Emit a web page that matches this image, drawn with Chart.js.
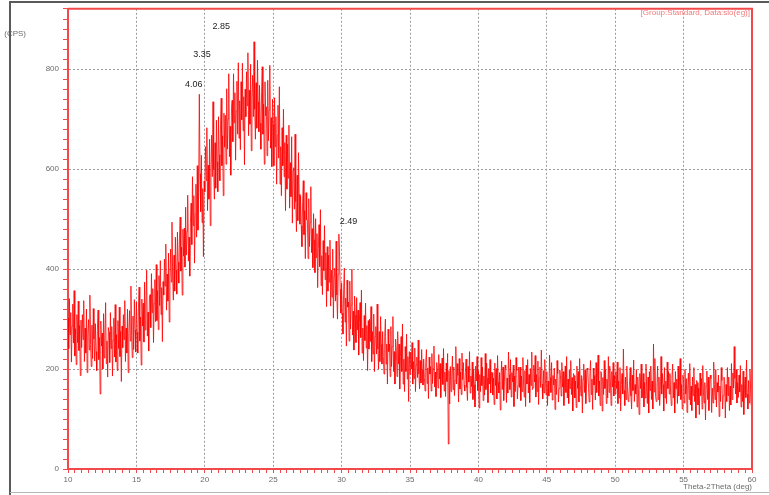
<!DOCTYPE html>
<html>
<head>
<meta charset="utf-8">
<script src="https://cdn.jsdelivr.net/npm/chart.js@4/dist/chart.umd.min.js"></script>
<style>
  html, body { margin: 0; padding: 0; background: #fff; }
  canvas { display: block; }
</style>
</head>
<body>
<canvas id="xrd" width="769" height="495"></canvas>
<script>
// XRD scan, intensity (CPS) vs 2-theta. One reading every 0.05 deg from 10 to 60.
const ANGLE_START = 10;
const ANGLE_STEP = 0.05;
const counts = [
  302,241,341,269,313,214,286,330,252,357, 226,281,209,309,253,336,237,287,187,298, // 10
  243,309,259,337,215,282,232,320,193,271, 299,238,348,249,205,288,221,321,260,216, // 11
  291,235,197,280,318,219,263,150,296,246, 272,200,311,222,267,333,211,256,184,283, // 12
  274,213,313,241,285,186,258,302,224,329, 214,269,197,297,241,324,225,275,175,286, // 13
  243,309,259,337,215,282,232,320,193,271, 317,256,366,267,223,306,239,339,278,234, // 14
  334,274,232,322,364,256,304,208,340,286, 332,254,374,278,326,398,266,314,236,344, // 15
  349,283,391,313,361,253,331,379,295,409, 297,357,279,387,327,417,309,363,255,375, // 16
  348,420,366,450,318,390,336,432,294,378, 440,374,494,386,338,428,356,464,398,350, // 17
  474,414,372,462,504,396,444,348,480,426, 482,404,524,428,476,548,416,464,386,494, // 18
  532,449,585,487,547,412,510,570,464,607, 478,553,750,591,515,628,493,561,425,576, // 19
  555,645,577,683,517,608,540,660,487,593, 668,585,735,600,540,653,562,698,615,555, // 20
  705,629,577,690,742,607,667,547,712,644, 708,610,761,640,701,791,625,686,588,723, // 21
  738,655,791,693,753,618,716,776,670,813, 662,737,639,775,699,812,677,745,609,760, // 22
  705,795,727,833,667,758,690,810,637,743, 788,705,855,720,660,773,682,818,735,675, // 23
  768,692,640,753,805,670,730,610,775,707, 725,627,778,657,718,808,642,703,605,740, // 24
  690,607,743,645,705,570,668,728,622,765, 570,645,547,683,607,720,585,653,517,668, // 25
  560,650,582,688,522,613,545,665,492,598, 603,520,670,535,475,588,497,633,550,490, // 26
  547,487,445,535,577,469,517,421,553,499, 499,421,541,445,493,565,433,481,403,511, // 27
  459,393,501,423,471,363,441,489,405,519, 367,427,349,457,397,487,379,433,325,445, // 28
  356,428,374,458,326,398,344,440,302,386, 402,336,456,348,300,390,470,426,360,312, // 29
  372,312,270,360,402,294,342,246,378,324, 334,256,376,280,328,400,268,316,238,346, // 30
  308,253,343,278,318,228,293,333,263,358, 232,282,217,307,257,332,242,287,197,297, // 31
  240,300,255,325,215,275,230,310,195,265, 285,230,330,240,200,275,215,305,250,210, // 32
  275,225,190,265,300,210,250,170,280,235, 250,185,285,205,245,305,195,235,170,260, // 33
  240,185,275,210,250,160,225,265,195,290, 170,220,155,245,195,270,180,225,135,235, // 34
  189,234,200,253,170,215,181,242,155,208, 224,183,258,190,160,217,172,239,198,168, // 35
  220,183,156,213,239,171,202,141,224,190, 205,156,231,171,201,246,164,194,145,213, // 36
  203,162,229,180,211,143,192,222,169,241, 156,194,145,212,175,231, 50,197,130,205, // 37
  155,185,226,159,204,147,177,245,170,211, 187,134,221,160,194,149,232,179,213,168, // 38
  156,193,220,163,137,205,174,235,152,186, 165,214,139,199,169,124,206,176,225,157, // 39
  197,122,189,155,223,167,204,137,186,148, 231,159,212,182,133,201,170,219,152,193, // 40
  193,148,182,129,212,167,201,140,227,174, 152,193,118,186,216,159,204,137,178,208, // 41
  201,133,182,152,234,189,159,219,144,193, 174,208,125,186,155,223,197,140,167,204, // 42
  163,204,137,186,155,223,174,144,197,125, 208,170,219,152,189,133,201,167,234,159, // 43
  163,208,174,227,144,189,155,216,129,182, 204,163,238,170,140,197,152,219,178,148, // 44
  195,127,176,146,228,183,153,213,138,187, 168,202,119,180,149,217,191,134,161,198, // 45
  187,146,213,164,195,127,176,206,153,225, 142,180,131,198,161,217,149,183,116,191, // 46
  187,142,176,123,206,161,195,134,221,168, 146,187,112,180,210,153,198,131,172,202, // 47
  198,161,134,191,217,149,180,119,202,168, 187,138,213,153,183,228,146,176,127,195, // 48
  191,116,183,149,217,161,198,131,180,142, 225,153,206,176,127,195,164,213,146,187, // 49
  150,195,161,214,131,176,142,203,116,169, 191,150,240,157,127,184,139,206,165,135, // 50
  139,176,203,146,120,188,157,218,135,169, 150,199,124,184,154,109,191,161,210,142, // 51
  150,191,124,173,142,210,161,131,184,112, 195,157,206,139,176,120,250,154,221,146, // 52
  135,165,206,139,184,127,157,225,150,191, 169,116,203,142,176,131,214,161,195,150, // 53
  191,154,127,184,210,142,173,112,195,161, 180,131,206,146,176,221,139,169,120,188, // 54
  173,132,199,150,181,113,162,192,139,211, 128,166,117,184,147,203,135,169,102,177, // 55
  173,128,162,109,192,147,181,120,207,154, 132,173, 98,166,196,139,184,117,158,188, // 56
  181,113,162,132,214,169,139,199,124,173, 154,188,105,166,135,203,177,120,147,184, // 57
  177,102,169,135,203,147,184,117,166,128, 211,139,192,162,245,181,150,199,132,173, // 58
  143,188,154,207,124,169,135,196,109,162, 184,143,218,150,120,177,132,199,158,128, // 59
  150                                                                                // 60
];

// d-spacing labels written above the peaks, placed at (2theta, CPS)
const peakLabels = ["4.06", "3.35", "2.85", "2.49"];
const peakAngles = [19.2, 19.8, 21.2, 30.5];
const peakHeights = [770, 830, 885, 495];

const X_MIN = 10, X_MAX = 60, Y_MIN = 0, Y_MAX = 921;
const RED = "#f24a4a";
const TICK_GRAY = "#6b6b6b";

const points = counts.map((c, i) => ({ x: ANGLE_START + i * ANGLE_STEP, y: c }));

const isMajor = (v, every) => Math.abs(v - Math.round(v / every) * every) < 1e-6;

// frame, plot border, small captions and peak labels
const decor = {
  id: "decor",
  afterDraw(chart) {
    const { ctx, chartArea: a, scales } = chart;
    ctx.save();
    ctx.font = "8px 'Liberation Sans', Arial, sans-serif";
    ctx.fillStyle = TICK_GRAY;
    ctx.textAlign = "right";
    ctx.textBaseline = "middle";
    ctx.fillText("(CPS)", 26, 34);
    ctx.fillText("Theta-2Theta (deg)", a.right, 487);

    ctx.fillStyle = "#f07a7a";
    ctx.fillText("[Group:Standard, Data:sio(eg)]", a.right - 2, 13);

    ctx.fillStyle = "#222";
    ctx.textAlign = "center";
    ctx.font = "9px 'Liberation Sans', Arial, sans-serif";
    peakLabels.forEach((t, i) => {
      ctx.fillText(t, scales.x.getPixelForValue(peakAngles[i]), scales.y.getPixelForValue(peakHeights[i]));
    });

    // top and right edges of the plot box
    ctx.strokeStyle = RED;
    ctx.lineWidth = 2;
    ctx.beginPath();
    ctx.moveTo(a.left, a.top);
    ctx.lineTo(a.right, a.top);
    ctx.lineTo(a.right, a.bottom);
    ctx.stroke();

    // outer window frame
    ctx.strokeStyle = "#5a5a5a";
    ctx.lineWidth = 2;
    ctx.beginPath();
    ctx.moveTo(10, 495);
    ctx.lineTo(10, 2);
    ctx.lineTo(769, 2);
    ctx.stroke();
    ctx.strokeStyle = "#b5b5b5";
    ctx.lineWidth = 1;
    ctx.beginPath();
    ctx.moveTo(10, 492.5);
    ctx.lineTo(769, 492.5);
    ctx.stroke();
    ctx.restore();
  },
};

Chart.defaults.font.family = "'Liberation Sans', Arial, sans-serif";
Chart.defaults.font.size = 8;
Chart.defaults.color = TICK_GRAY;

new Chart(document.getElementById("xrd"), {
  type: "line",
  data: {
    datasets: [{
      data: points,
      borderColor: "rgba(255,0,0,0.8)",
      borderWidth: 1,
      pointRadius: 0,
      tension: 0,
      fill: false,
    }],
  },
  options: {
    responsive: false,
    animation: false,
    events: [],
    layout: { padding: { top: 6, right: 17, left: 0, bottom: 0 } },
    plugins: { legend: { display: false }, tooltip: { enabled: false } },
    scales: {
      x: {
        type: "linear",
        min: X_MIN,
        max: X_MAX,
        afterFit: (s) => { s.height = 26; },
        ticks: {
          stepSize: 0.5,
          autoSkip: false,
          maxRotation: 0,
          padding: 2,
          callback: (v) => (isMajor(v, 5) ? String(v) : ""),
        },
        grid: {
          color: (c) => (c.tick && isMajor(c.tick.value, 5) ? "#9c9c9c" : "rgba(0,0,0,0)"),
          tickColor: RED,
          tickLength: 4,
          lineWidth: 1,
        },
        border: { display: true, color: RED, width: 2, dash: [2, 2] },
      },
      y: {
        min: Y_MIN,
        max: Y_MAX,
        afterFit: (s) => { s.width = 68; },
        ticks: {
          stepSize: 20,
          autoSkip: false,
          padding: 4,
          callback: (v) => (isMajor(v, 200) ? String(v) : ""),
        },
        grid: {
          color: (c) => (c.tick && isMajor(c.tick.value, 200) ? "#9c9c9c" : "rgba(0,0,0,0)"),
          tickColor: RED,
          tickLength: 5,
          lineWidth: 1,
        },
        border: { display: true, color: RED, width: 2, dash: [2, 2] },
      },
    },
  },
  plugins: [decor],
});
</script>
</body>
</html>
